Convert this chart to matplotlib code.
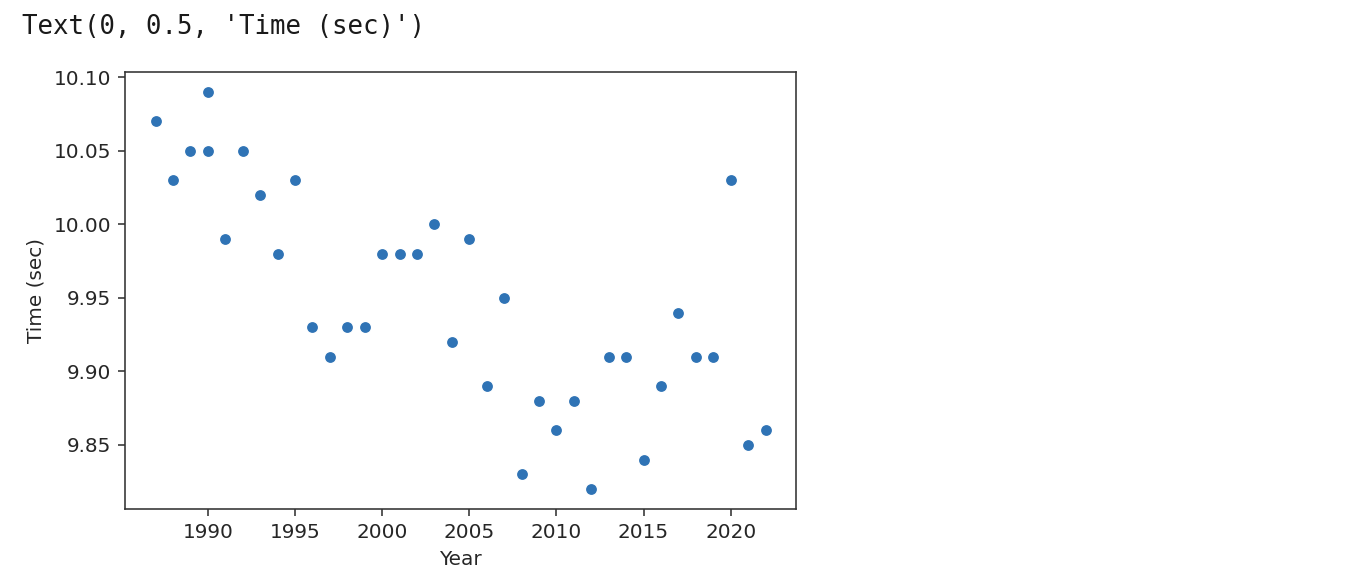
import matplotlib
matplotlib.use("Agg")
import matplotlib.pyplot as plt

# winning 100m times by year (1990 has two entries)
years = [1987, 1988, 1989, 1990, 1990, 1991, 1992, 1993, 1994, 1995,
         1996, 1997, 1998, 1999, 2000, 2001, 2002, 2003, 2004, 2005,
         2006, 2007, 2008, 2009, 2010, 2011, 2012, 2013, 2014, 2015,
         2016, 2017, 2018, 2019, 2020, 2021, 2022]
times = [10.07, 10.03, 10.05, 10.09, 10.05, 9.99, 10.05, 10.02, 9.98, 10.03,
         9.93, 9.91, 9.93, 9.93, 9.98, 9.98, 9.98, 10.00, 9.92, 9.99,
         9.89, 9.95, 9.83, 9.88, 9.86, 9.88, 9.82, 9.91, 9.91, 9.84,
         9.89, 9.94, 9.91, 9.91, 10.03, 9.85, 9.86]

fig = plt.figure(figsize=(1358 / 144, 576 / 144), dpi=144)

# notebook output line above the chart
fig.text(22 / 1358, 1 - 27 / 576, "Text(0, 0.5, 'Time (sec)')",
         family="DejaVu Sans Mono", fontsize=12.9, color="#1a1a1a",
         va="center", ha="left")

ax = fig.add_axes([125 / 1358, 1 - 509 / 576, (796 - 125) / 1358, (509 - 72) / 576])
ax.scatter(years, times, s=38, color="#2f73b5", edgecolor="white", linewidth=0.75)
ax.set_xticks([1990, 1995, 2000, 2005, 2010, 2015, 2020])
ax.set_yticks([9.85, 9.90, 9.95, 10.00, 10.05, 10.10])
ax.set_xlabel("Year", color="#262626")
ax.set_ylabel("Time (sec)", color="#262626")
ax.tick_params(colors="#333333", labelcolor="#262626")
for sp in ax.spines.values():
    sp.set_color("#333333")

fig.savefig("out.png", dpi=144)
